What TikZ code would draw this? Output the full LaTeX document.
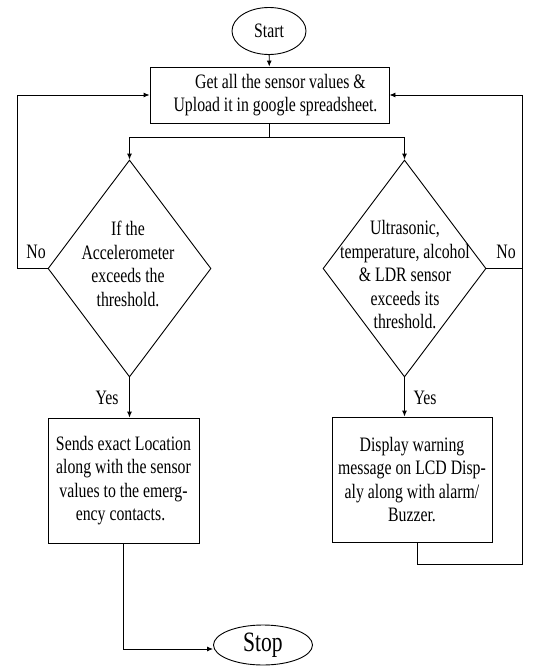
\documentclass[tikz,border=0pt]{standalone}
\usepackage{fontspec}
\setmainfont[FakeStretch=0.77]{Liberation Serif}
\usetikzlibrary{shapes.geometric,arrows.meta,calc}
\tikzset{
  txt/.style={font=\fontsize{20.5}{23.5}\selectfont, align=center, inner sep=0pt},
  procbox/.style={draw, line width=0.9pt, rectangle, txt, minimum width=#1},
  term/.style={draw, line width=0.9pt, ellipse, inner sep=0pt},
  decide/.style={draw, line width=0.9pt, diamond, inner sep=0pt, minimum width=163pt, minimum height=217pt},
  conn/.style={line width=0.9pt},
  arr/.style={conn, -{Latex[length=6pt,width=5pt]}},
}
\begin{document}
\begin{tikzpicture}[x=1pt,y=-1pt]
\useasboundingbox (0,0) rectangle (557,666);
% terminals
\node[term, minimum width=74pt, minimum height=47pt, font=\fontsize{20.5}{23.5}\selectfont] (start) at (269,31) {Start};
\node[term, minimum width=99pt, minimum height=40pt, font=\fontsize{28}{30}\selectfont] (stop) at (263,645) {Stop};
% main box
\node[procbox=239pt, minimum height=56pt] (box) at (269.5,95) {\hspace*{22pt}Get all the sensor values \&\\\hspace*{12pt}Upload it in google spreadsheet.};
% decisions
\node[decide] (d1) at (129.5,268.5) {};
\node[txt] (d1t) at (128,264) {If the\\Accelerometer\\exceeds the\\threshold.};
\node[decide] (d2) at (404.5,268.5) {};
\node[txt] (d2t) at (405,275) {Ultrasonic,\\temperature, alcohol\\\& LDR sensor\\exceeds its\\threshold.};
% action boxes
\node[procbox=151pt, minimum height=125pt] (b1) at (123.5,480.5) {Sends exact Location\\along with the sensor\\values to the emerg-\\ency contacts.\hspace*{6pt}};
\node[procbox=160pt, minimum height=125pt] (b2) at (412,479.5) {Display warning\\message on LCD Disp-\\aly along with alarm/\\Buzzer.};
% labels
\node[txt] (no1) at (36,252) {No};
\node[txt] (no2) at (506,252) {No};
\node[txt] (yes1) at (107,398) {Yes};
\node[txt] (yes2) at (425,398) {Yes};
% connectors
\draw[arr] (start) -- (box);
\draw[conn] (box.south) -- ++(0,14) coordinate (split);
\draw[arr] (split) -| (d1.north);
\draw[arr] (split) -| (d2.north);
\coordinate (loopl) at (17,268.5);
\draw[arr] (d1.west) -- (loopl) |- (box.west);
\coordinate (loopr) at (522,564);
\draw[arr] ([xshift=5pt]b2.south) |- (loopr) |- (box.east);
\draw[conn] (d2.east) -- (d2.east -| loopr);
\draw[arr] (d1.south) -- (d1.south |- b1.north);
\draw[arr] (d2.south) -- (d2.south |- b2.north);
\draw[arr] (b1.south) |- ([yshift=-4pt]stop.west);
\end{tikzpicture}
\end{document}
